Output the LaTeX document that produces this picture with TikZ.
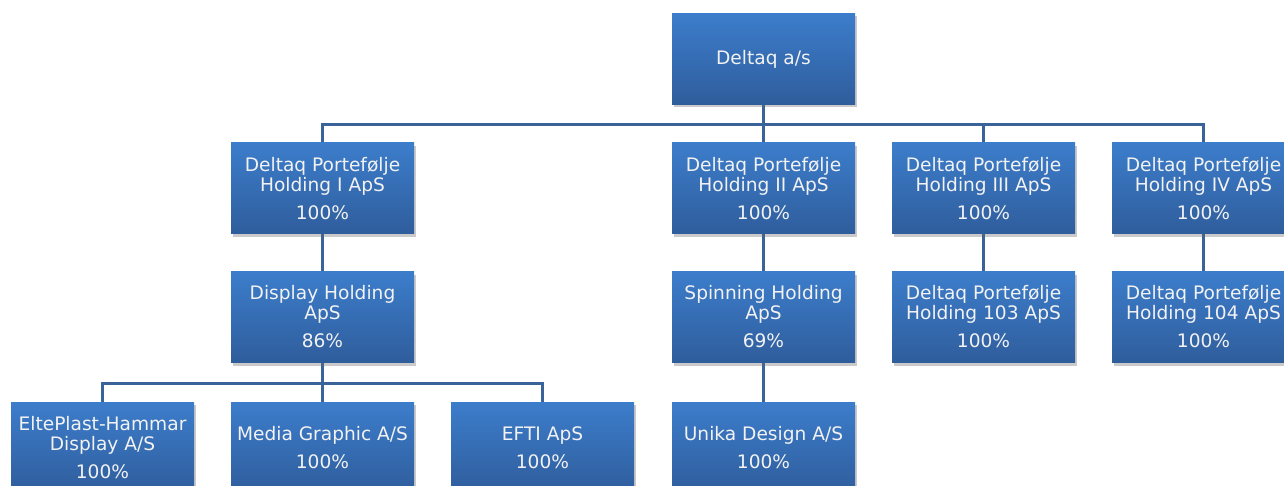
\documentclass[tikz,border=0pt]{standalone}
\usepackage{fontspec}
\setmainfont{DejaVu Sans}
\usetikzlibrary{shadows,backgrounds}
\definecolor{boxtop}{HTML}{3C7DCB}
\definecolor{boxbot}{HTML}{2F5D9C}
\definecolor{linec}{HTML}{3A6399}
\definecolor{txtc}{HTML}{F2F2F2}
\tikzset{
  orgbox/.style={rectangle, minimum width=183pt, minimum height=91pt, inner sep=0pt,
    top color=boxtop, bottom color=boxbot, text=txtc, align=center,
    font=\fontsize{18.6pt}{20pt}\selectfont,
    drop shadow={shadow xshift=2pt, shadow yshift=-3pt, opacity=0.35, fill=black!60}},
  link/.style={draw=linec, line width=2.6pt}
}
\begin{document}
\begin{tikzpicture}[x=1pt,y=-1pt]
\useasboundingbox (0,0) rectangle (1284,486);
\node[orgbox] (top) at (763.5,59) {Deltaq a/s};
\node[orgbox] (h1) at (322.5,188.5) {Deltaq Portefølje\\Holding I ApS\\[8pt]100\%};
\node[orgbox] (h2) at (763.5,188.5) {Deltaq Portefølje\\Holding II ApS\\[8pt]100\%};
\node[orgbox] (h3) at (983.5,188.5) {Deltaq Portefølje\\Holding III ApS\\[8pt]100\%};
\node[orgbox] (h4) at (1203.5,188.5) {Deltaq Portefølje\\Holding IV ApS\\[8pt]100\%};
\node[orgbox] (d1) at (322.5,317) {Display Holding\\ApS\\[8pt]86\%};
\node[orgbox] (d2) at (763.5,317) {Spinning Holding\\ApS\\[8pt]69\%};
\node[orgbox] (d3) at (983.5,317) {Deltaq Portefølje\\Holding 103 ApS\\[8pt]100\%};
\node[orgbox] (d4) at (1203.5,317) {Deltaq Portefølje\\Holding 104 ApS\\[8pt]100\%};
\node[orgbox] (e1) at (102.5,447.5) {EltePlast-Hammar\\Display A/S\\[8pt]100\%};
\node[orgbox] (e2) at (322.5,447.5) {Media Graphic A/S\\[8pt]100\%};
\node[orgbox] (e3) at (542.5,447.5) {EFTI ApS\\[8pt]100\%};
\node[orgbox] (e4) at (763.5,447.5) {Unika Design A/S\\[8pt]100\%};
\begin{scope}[on background layer]
\foreach \c in {h1,h2,h3,h4}{\draw[link] (top.south) -- ++(0,20) -| (\c.north);}
\foreach \a/\b in {h1/d1,h2/d2,h3/d3,h4/d4,d2/e4}{\draw[link] (\a.south) -- (\b.north);}
\foreach \c in {e1,e2,e3}{\draw[link] (d1.south) -- ++(0,21) -| (\c.north);}
\end{scope}
\end{tikzpicture}
\end{document}
